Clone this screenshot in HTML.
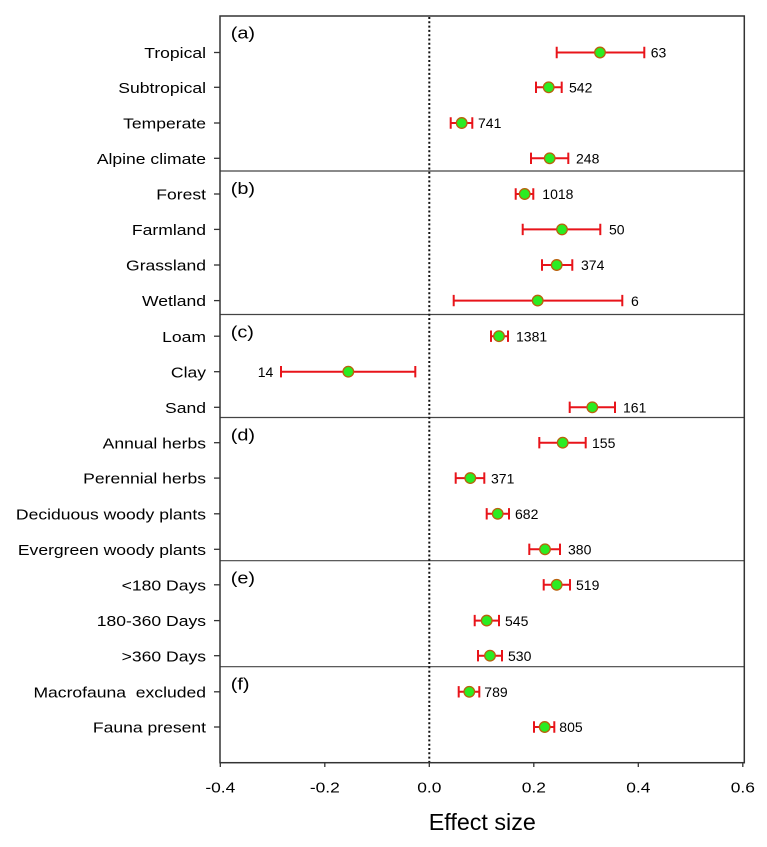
<!DOCTYPE html>
<html><head><meta charset="utf-8"><style>
html,body{margin:0;padding:0;background:#fff;}
svg{display:block;}
text{font-family:"Liberation Sans",Arial,sans-serif;fill:#000;}
</style></head><body>
<svg width="767" height="847" viewBox="0 0 767 847" xmlns="http://www.w3.org/2000/svg">
<rect x="0" y="0" width="767" height="847" fill="#fff"/>
<!-- separators -->
<g stroke="#444" stroke-width="1.2">
<line x1="220" y1="171" x2="744" y2="171"/>
<line x1="220" y1="314.5" x2="744" y2="314.5"/>
<line x1="220" y1="417.5" x2="744" y2="417.5"/>
<line x1="220" y1="560.7" x2="744" y2="560.7"/>
<line x1="220" y1="666.7" x2="744" y2="666.7"/>
</g>
<!-- zero line -->
<line x1="429.3" y1="17" x2="429.3" y2="762" stroke="#111" stroke-width="2" stroke-dasharray="2,2.3"/>
<!-- frame -->
<rect x="220" y="16" width="524.3" height="746.7" fill="none" stroke="#333" stroke-width="1.5"/>
<!-- x ticks -->
<g stroke="#333" stroke-width="1.3">
<line x1="220.3" y1="762.7" x2="220.3" y2="767"/>
<line x1="324.8" y1="762.7" x2="324.8" y2="767"/>
<line x1="429.3" y1="762.7" x2="429.3" y2="767"/>
<line x1="533.8" y1="762.7" x2="533.8" y2="767"/>
<line x1="638.3" y1="762.7" x2="638.3" y2="767"/>
<line x1="742.8" y1="762.7" x2="742.8" y2="767"/>
</g>
<g font-size="15" text-anchor="middle">
<text transform="translate(220.3,792.3) scale(1.16,1)">-0.4</text>
<text transform="translate(324.8,792.3) scale(1.16,1)">-0.2</text>
<text transform="translate(429.3,792.3) scale(1.16,1)">0.0</text>
<text transform="translate(533.8,792.3) scale(1.16,1)">0.2</text>
<text transform="translate(638.3,792.3) scale(1.16,1)">0.4</text>
<text transform="translate(742.8,792.3) scale(1.16,1)">0.6</text>
</g>
<text x="482.3" y="830" font-size="23.3" text-anchor="middle">Effect size</text>
<!-- panel labels -->
<g font-size="17">
<text transform="translate(230.7,38.5) scale(1.17,1)">(a)</text>
<text transform="translate(230.7,194) scale(1.17,1)">(b)</text>
<text transform="translate(230.7,337.5) scale(1.17,1)">(c)</text>
<text transform="translate(230.7,440.5) scale(1.17,1)">(d)</text>
<text transform="translate(230.7,583.7) scale(1.17,1)">(e)</text>
<text transform="translate(230.7,689.7) scale(1.17,1)">(f)</text>
</g>
<!-- y ticks and labels -->
<g stroke="#333" stroke-width="1.3">
<line x1="214" y1="52.5" x2="220" y2="52.5"/>
<line x1="214" y1="87.3" x2="220" y2="87.3"/>
<line x1="214" y1="123" x2="220" y2="123"/>
<line x1="214" y1="158.3" x2="220" y2="158.3"/>
<line x1="214" y1="194" x2="220" y2="194"/>
<line x1="214" y1="229.4" x2="220" y2="229.4"/>
<line x1="214" y1="265" x2="220" y2="265"/>
<line x1="214" y1="300.6" x2="220" y2="300.6"/>
<line x1="214" y1="336.2" x2="220" y2="336.2"/>
<line x1="214" y1="371.7" x2="220" y2="371.7"/>
<line x1="214" y1="407.3" x2="220" y2="407.3"/>
<line x1="214" y1="442.7" x2="220" y2="442.7"/>
<line x1="214" y1="478.1" x2="220" y2="478.1"/>
<line x1="214" y1="513.8" x2="220" y2="513.8"/>
<line x1="214" y1="549.3" x2="220" y2="549.3"/>
<line x1="214" y1="584.8" x2="220" y2="584.8"/>
<line x1="214" y1="620.6" x2="220" y2="620.6"/>
<line x1="214" y1="655.7" x2="220" y2="655.7"/>
<line x1="214" y1="691.8" x2="220" y2="691.8"/>
<line x1="214" y1="727" x2="220" y2="727"/>
</g>
<g font-size="15" text-anchor="end">
<text transform="translate(206,58.1) scale(1.17,1)">Tropical</text>
<text transform="translate(206,92.9) scale(1.17,1)">Subtropical</text>
<text transform="translate(206,128.6) scale(1.17,1)">Temperate</text>
<text transform="translate(206,163.9) scale(1.17,1)">Alpine climate</text>
<text transform="translate(206,199.6) scale(1.17,1)">Forest</text>
<text transform="translate(206,235) scale(1.17,1)">Farmland</text>
<text transform="translate(206,270.6) scale(1.17,1)">Grassland</text>
<text transform="translate(206,306.2) scale(1.17,1)">Wetland</text>
<text transform="translate(206,341.8) scale(1.17,1)">Loam</text>
<text transform="translate(206,377.3) scale(1.17,1)">Clay</text>
<text transform="translate(206,412.9) scale(1.17,1)">Sand</text>
<text transform="translate(206,448.3) scale(1.17,1)">Annual herbs</text>
<text transform="translate(206,483.7) scale(1.17,1)">Perennial herbs</text>
<text transform="translate(206,519.4) scale(1.17,1)">Deciduous woody plants</text>
<text transform="translate(206,554.9) scale(1.17,1)">Evergreen woody plants</text>
<text transform="translate(206,590.4) scale(1.17,1)">&lt;180 Days</text>
<text transform="translate(206,626.2) scale(1.17,1)">180-360 Days</text>
<text transform="translate(206,661.3) scale(1.17,1)">&gt;360 Days</text>
<text transform="translate(206,697.4) scale(1.17,1)">Macrofauna&#160; excluded</text>
<text transform="translate(206,732.6) scale(1.17,1)">Fauna present</text>
</g>
<!-- error bars -->
<g stroke="#e8141a" stroke-width="2" fill="none">
<path d="M556.7 52.5H644.3M556.7 46.8v11.4M644.3 46.8v11.4"/>
<path d="M536 87.3H561.7M536 81.6v11.4M561.7 81.6v11.4"/>
<path d="M450.7 123H472.3M450.7 117.3v11.4M472.3 117.3v11.4"/>
<path d="M531 158.3H568.3M531 152.6v11.4M568.3 152.6v11.4"/>
<path d="M515.7 194H533.3M515.7 188.3v11.4M533.3 188.3v11.4"/>
<path d="M522.7 229.4H600.3M522.7 223.7v11.4M600.3 223.7v11.4"/>
<path d="M542 265H572.3M542 259.3v11.4M572.3 259.3v11.4"/>
<path d="M453.7 300.6H622.3M453.7 294.9v11.4M622.3 294.9v11.4"/>
<path d="M491 336.2H508M491 330.5v11.4M508 330.5v11.4"/>
<path d="M281 371.7H415.3M281 366v11.4M415.3 366v11.4"/>
<path d="M569.7 407.3H615M569.7 401.6v11.4M615 401.6v11.4"/>
<path d="M539.3 442.7H585.7M539.3 437v11.4M585.7 437v11.4"/>
<path d="M455.7 478.1H484.3M455.7 472.4v11.4M484.3 472.4v11.4"/>
<path d="M486.7 513.8H509M486.7 508.1v11.4M509 508.1v11.4"/>
<path d="M529.3 549.3H560M529.3 543.6v11.4M560 543.6v11.4"/>
<path d="M543.7 584.8H570M543.7 579.1v11.4M570 579.1v11.4"/>
<path d="M474.7 620.6H499M474.7 614.9v11.4M499 614.9v11.4"/>
<path d="M478 655.7H502M478 650v11.4M502 650v11.4"/>
<path d="M458.7 691.8H479.3M458.7 686.1v11.4M479.3 686.1v11.4"/>
<path d="M534 727H554.3M534 721.3v11.4M554.3 721.3v11.4"/>
</g>
<!-- markers -->
<g fill="#2aec22" stroke="#b8620c" stroke-width="1.3">
<circle cx="600" cy="52.5" r="5.3"/>
<circle cx="548.7" cy="87.3" r="5.3"/>
<circle cx="461.7" cy="123" r="5.3"/>
<circle cx="549.7" cy="158.3" r="5.3"/>
<circle cx="524.7" cy="194" r="5.3"/>
<circle cx="562" cy="229.4" r="5.3"/>
<circle cx="556.7" cy="265" r="5.3"/>
<circle cx="537.7" cy="300.6" r="5.3"/>
<circle cx="499" cy="336.2" r="5.3"/>
<circle cx="348.3" cy="371.7" r="5.3"/>
<circle cx="592.3" cy="407.3" r="5.3"/>
<circle cx="562.7" cy="442.7" r="5.3"/>
<circle cx="470.3" cy="478.1" r="5.3"/>
<circle cx="497.7" cy="513.8" r="5.3"/>
<circle cx="545" cy="549.3" r="5.3"/>
<circle cx="556.7" cy="584.8" r="5.3"/>
<circle cx="486.7" cy="620.6" r="5.3"/>
<circle cx="490" cy="655.7" r="5.3"/>
<circle cx="469.3" cy="691.8" r="5.3"/>
<circle cx="544.7" cy="727" r="5.3"/>
</g>
<!-- n labels -->
<g font-size="14">
<text x="650.7" y="57.7">63</text>
<text x="569" y="92.5">542</text>
<text x="478" y="128.2">741</text>
<text x="576" y="163.5">248</text>
<text x="542.3" y="199.2">1018</text>
<text x="609" y="234.6">50</text>
<text x="581" y="270.2">374</text>
<text x="631" y="305.8">6</text>
<text x="516" y="341.4">1381</text>
<text x="273.3" y="376.9" text-anchor="end">14</text>
<text x="623" y="412.5">161</text>
<text x="592" y="447.9">155</text>
<text x="491" y="483.3">371</text>
<text x="515" y="519">682</text>
<text x="568" y="554.5">380</text>
<text x="576" y="590">519</text>
<text x="505" y="625.8">545</text>
<text x="508" y="660.9">530</text>
<text x="484.3" y="697">789</text>
<text x="559.3" y="732.2">805</text>
</g>
</svg>
</body></html>
